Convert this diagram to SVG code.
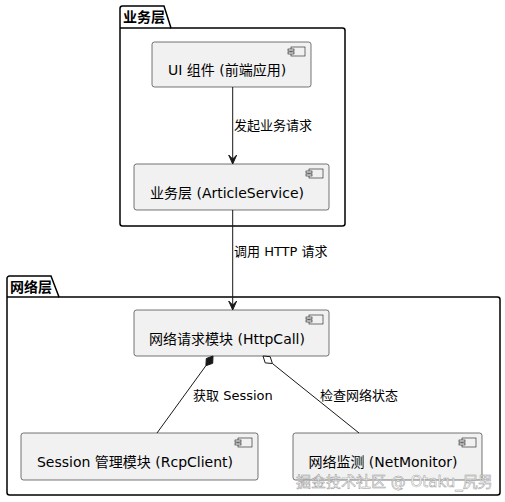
<svg xmlns="http://www.w3.org/2000/svg" width="505" height="502" viewBox="0 0 505 502">
<style>
  .pkg { fill: none; stroke: #000; stroke-width: 1.5; }
  .pkgt { font-family: "DejaVu Sans", "Noto Sans CJK SC", sans-serif; font-size: 14px; font-weight: bold; fill: #000; }
  .comp { fill: #F1F1F1; stroke: #181818; stroke-width: 0.6; }
  .icon { fill: #F1F1F1; stroke: #181818; stroke-width: 0.6; }
  .ct { font-family: "DejaVu Sans", "Noto Sans CJK SC", sans-serif; font-size: 14px; fill: #000; text-anchor: middle; }
  .el { font-family: "DejaVu Sans", "Noto Sans CJK SC", sans-serif; font-size: 13px; fill: #000; }
  .ln { fill: none; stroke: #181818; stroke-width: 1; }
  .wm { font-family: "DejaVu Sans", "Noto Sans CJK SC", sans-serif; font-size: 15px; fill: #fff; stroke: #999; stroke-width: 0.5; }
</style>
<defs>
  <g id="cicon">
    <rect class="icon" x="3" y="0" width="14" height="9"/>
    <rect class="icon" x="0" y="2" width="6" height="2"/>
    <rect class="icon" x="0" y="5" width="6" height="2"/>
  </g>
</defs>
<rect width="505" height="502" fill="#fff"/>

<g id="pkg-business">
  <path class="pkg" d="M120,8.5 A2.5,2.5 0 0 1 122.5,6 L164,6 L171,28 L342.5,28 A2.5,2.5 0 0 1 345,30.5 L345,223.5 A2.5,2.5 0 0 1 342.5,226 L122.5,226 A2.5,2.5 0 0 1 120,223.5 Z"/>
  <line class="pkg" x1="120" y1="28" x2="171" y2="28"/>
  <text class="pkgt" x="123" y="22">业务层</text>
</g>

<g id="pkg-network">
  <path class="pkg" d="M7,278.5 A2.5,2.5 0 0 1 9.5,276 L51,276 L59,297 L497.5,297 A2.5,2.5 0 0 1 500,299.5 L500,492.5 A2.5,2.5 0 0 1 497.5,495 L9.5,495 A2.5,2.5 0 0 1 7,492.5 Z"/>
  <line class="pkg" x1="7" y1="297" x2="59" y2="297"/>
  <text class="pkgt" x="10" y="292">网络层</text>
</g>

<g id="ui">
  <rect class="comp" x="152" y="42" width="159" height="45" rx="2.5"/>
  <use href="#cicon" x="288" y="47"/>
  <text class="ct" x="227" y="75">UI 组件 (前端应用)</text>
</g>

<g id="article">
  <rect class="comp" x="134" y="164" width="195" height="46" rx="2.5"/>
  <use href="#cicon" x="306" y="169"/>
  <text class="ct" x="227" y="198">业务层 (ArticleService)</text>
</g>

<g id="httpcall">
  <rect class="comp" x="134" y="310" width="195" height="46" rx="2.5"/>
  <use href="#cicon" x="306" y="315"/>
  <text class="ct" x="227" y="344">网络请求模块 (HttpCall)</text>
</g>

<g id="rcpclient">
  <rect class="comp" x="21" y="433" width="237" height="47" rx="2.5"/>
  <use href="#cicon" x="235" y="438"/>
  <text class="ct" x="135" y="467">Session 管理模块 (RcpClient)</text>
</g>

<g id="netmonitor">
  <rect class="comp" x="293" y="433" width="189" height="47" rx="2.5"/>
  <use href="#cicon" x="459" y="438"/>
  <text class="ct" x="383" y="467">网络监测 (NetMonitor)</text>
</g>

<g id="connectors">
  <line class="ln" x1="232.7" y1="87" x2="232.7" y2="162"/>
  <path d="M232.7,164 L228.7,155 L232.7,159 L236.7,155 Z" fill="#181818" stroke="#181818" stroke-width="1"/>
  <text class="el" x="234" y="130">发起业务请求</text>

  <line class="ln" x1="232.7" y1="210" x2="232.7" y2="308"/>
  <path d="M232.7,310 L228.7,301 L232.7,305 L236.7,301 Z" fill="#181818" stroke="#181818" stroke-width="1"/>
  <text class="el" x="234" y="256">调用 HTTP 请求</text>

  <line class="ln" x1="157" y1="433" x2="205.9" y2="365.7"/>
  <path d="M213,356 L212.7,363.3 L205.9,365.7 L206.3,358.5 Z" fill="#181818" stroke="#181818" stroke-width="1"/>
  <text class="el" x="193" y="400">获取 Session</text>

  <line class="ln" x1="359" y1="433" x2="272.4" y2="363.5"/>
  <path d="M263,356 L265.2,362.9 L272.4,363.5 L270.2,356.7 Z" fill="#fff" stroke="#181818" stroke-width="1"/>
  <text class="el" x="320" y="400">检查网络状态</text>
</g>

<text class="wm" x="296" y="487">掘金技术社区 @ Otaku_尻男</text>
</svg>
